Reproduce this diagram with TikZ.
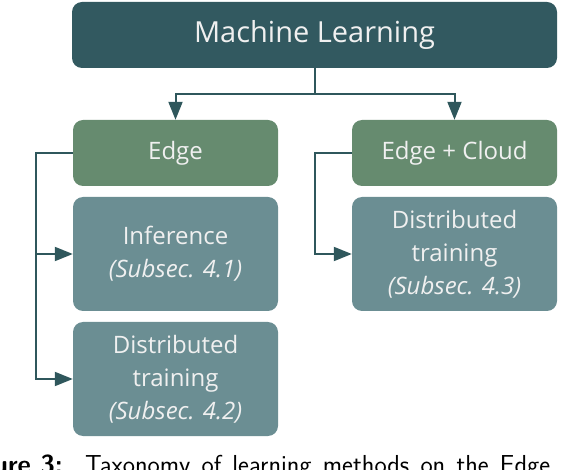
\documentclass[tikz,border=0pt]{standalone}
\usepackage{fontspec}
\usepackage{xcolor}
\usepackage{tikz}
\usetikzlibrary{arrows.meta}
\newfontfamily\boxfont{Open Sans}
\definecolor{mlteal}{HTML}{325960}
\definecolor{edgegreen}{HTML}{668B6F}
\definecolor{leafgrey}{HTML}{6B8E93}
\definecolor{linkteal}{HTML}{2F575C}

\begin{document}
\begin{tikzpicture}[x=1pt, y=-1pt,
  box/.style={rounded corners=10pt, inner sep=0pt, align=center,
    text=white!94!black, font=\boxfont\fontsize{24}{33}\selectfont},
  topbox/.style={box, fill=mlteal, minimum width=485pt, minimum height=66pt,
    font=\boxfont\fontsize{29}{33}\selectfont},
  midbox/.style={box, fill=edgegreen, minimum width=205pt, minimum height=66pt},
  leafbox/.style={box, fill=leafgrey, minimum width=205pt, minimum height=114pt},
  link/.style={draw=linkteal, line width=2pt, -{Triangle[length=18pt, width=14pt]}}]
  \useasboundingbox (0,0) rectangle (576,470);
  % levels of the taxonomy
  \node[topbox] (ml) at (314.5,35) {Machine Learning};
  \node[midbox] (edge) at (175.5,153) {Edge};
  \node[midbox] (cloud) at (454.5,153) {Edge + Cloud};
  \node[leafbox] (inf) at (175.5,254) {Inference\\\textit{(Subsec. 4.1)}};
  \node[leafbox] (disted) at (175.5,379) {Distributed\\training\\\textit{(Subsec. 4.2)}};
  \node[leafbox] (distcl) at (454.5,254) {Distributed\\training\\\textit{(Subsec. 4.3)}};
  % connectors
  \draw[link] (ml.south) -- ++(0,26) -| (edge.north);
  \draw[link] (ml.south) -- ++(0,26) -| (cloud.north);
  \draw[link] (edge.west) -- ++(-37,0) |- (inf.west);
  \draw[link] (edge.west) -- ++(-37,0) |- (disted.west);
  \draw[link] (cloud.west) -- ++(-37,0) |- (distcl.west);
  % caption, cut by the page
  \node[anchor=base east, inner sep=0pt, font=\sffamily\bfseries\fontsize{26}{30}\selectfont] (capnum) at (63,473) {Figure 3:};
  \node[anchor=base west, inner sep=0pt, font=\sffamily\fontsize{26}{30}\selectfont] (captext) at (85,473) {\spaceskip=0.43em Taxonomy of learning methods on the Edge};
\end{tikzpicture}
\end{document}
